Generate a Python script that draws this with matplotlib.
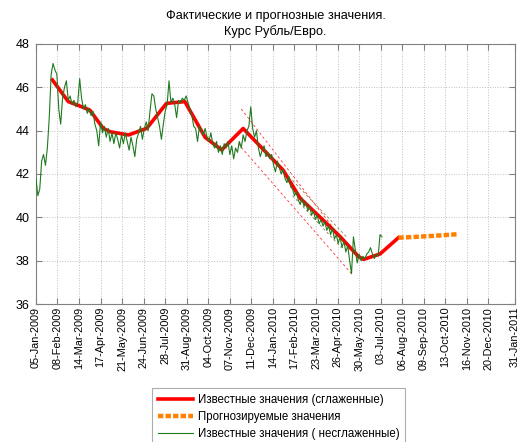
import numpy as np
import pandas as pd
import matplotlib
matplotlib.use('Agg')
import matplotlib.pyplot as plt

plt.rcParams['font.family'] = ['Liberation Sans', 'DejaVu Sans']

# исходный (несглаженный) ряд, шаг 3 дня от 05-Jan-2009
start = pd.Timestamp('2009-01-05')
raw_vals = [41.8, 41.0, 41.3, 42.6, 42.9, 42.4, 43.2, 44.6, 46.6, 47.1, 46.8, 46.6,
            45.0, 44.3, 45.5, 46.0, 46.3, 45.4, 45.6, 45.2, 45.4, 45.1, 45.3, 46.4,
            45.5, 45.0, 45.2, 44.8, 45.0, 44.7, 44.9, 44.3, 44.0, 43.3, 44.4, 43.9,
            44.2, 43.7, 44.1, 43.5, 43.9, 43.4, 43.9, 43.6, 43.2, 43.8, 43.4, 43.9,
            43.5, 43.1, 43.7, 43.3, 42.8, 43.6, 43.9, 44.2, 43.6, 44.1, 44.4, 44.0,
            44.9, 45.7, 45.6, 45.0, 44.6, 44.2, 43.6, 44.3, 44.9, 45.2, 46.3, 45.3,
            45.5, 45.2, 44.6, 45.4, 45.3, 45.5, 45.4, 45.6, 45.3, 45.0, 44.7, 44.2,
            44.1, 43.5, 44.2, 44.0, 43.8, 44.1, 43.7, 43.5, 43.9, 43.4, 43.2, 43.5,
            43.0, 43.3, 42.9, 43.4, 43.2, 43.5, 42.9, 43.3, 42.7, 43.2, 43.0, 43.5,
            43.2, 43.8, 43.5, 44.0, 44.2, 45.1, 44.1, 43.7, 44.0, 43.2, 42.8, 43.1,
            43.3, 42.8, 43.0, 42.7, 42.9, 42.4, 42.1, 42.6, 42.3, 42.0, 42.2, 41.8,
            41.6, 41.9, 41.4, 41.3, 41.0, 41.2, 40.8, 40.6, 40.9, 40.5, 40.7, 40.3,
            40.5, 40.1, 40.3, 39.9, 40.1, 39.7, 39.9, 39.6, 39.8, 39.4, 39.6, 39.2,
            39.5, 39.0, 39.2, 38.8, 39.1, 38.6, 38.9, 38.4, 38.7, 38.0, 37.4, 39.1,
            38.5, 37.9, 38.3, 38.0, 38.2, 38.1, 38.3, 38.4, 38.6, 38.3, 38.1, 38.3,
            38.2, 39.2, 39.1]

# сглаженный ряд (дни от начала, значения)
smooth_days = [26, 51, 69, 85, 106, 117, 146, 175, 206, 235, 267, 293, 327,
               390, 417, 454, 480, 509, 517, 543, 572]
smooth_vals = [46.34, 45.34, 45.14, 44.95, 44.11, 43.95, 43.8, 44.11, 45.26, 45.34,
               43.69, 43.11, 44.1, 42.18, 40.88, 39.85, 39.11, 38.19, 38.06, 38.31, 39.06]

# прогноз
fc_days = [572, 600, 630, 665]
fc_vals = [39.06, 39.1, 39.15, 39.22]

# доверительные полосы
outer_up_days, outer_up_vals = [324, 496], [45.0, 38.5]
outer_lo_days, outer_lo_vals = [319, 498], [43.4, 37.4]
inner_up_days, inner_up_vals = [405, 490], [41.7, 39.1]
inner_lo_days, inner_lo_vals = [405, 482], [41.0, 38.6]

tick_labels = ['05-Jan-2009', '08-Feb-2009', '14-Mar-2009', '17-Apr-2009', '21-May-2009',
               '24-Jun-2009', '28-Jul-2009', '31-Aug-2009', '04-Oct-2009', '07-Nov-2009',
               '11-Dec-2009', '14-Jan-2010', '17-Feb-2010', '23-Mar-2010', '26-Apr-2010',
               '30-May-2010', '03-Jul-2010', '06-Aug-2010', '09-Sep-2010', '13-Oct-2010',
               '16-Nov-2010', '20-Dec-2010', '31-Jan-2011']


def to_dates(days):
    return start + pd.to_timedelta(days, unit='D')


raw_dates = pd.date_range(start, periods=len(raw_vals), freq='3D')
tick_dates = pd.to_datetime(tick_labels, format='%d-%b-%Y')

fig = plt.figure(figsize=(5.21, 4.42), dpi=100)
ax = fig.add_axes([0.069, 0.3122, 0.9195, 0.5883])

ax.plot(to_dates(smooth_days), smooth_vals, color='#ff0000', lw=2.6,
        label='Известные значения (сглаженные)', zorder=3, solid_joinstyle='round')
ax.plot(to_dates(fc_days), fc_vals, color='#ff7f00', lw=3.2, ls=(0, (1.2, 0.5)),
        label='Прогнозируемые значения', zorder=3)
ax.plot(raw_dates, raw_vals, color='#1f7a1f', lw=0.8,
        label='Известные значения ( несглаженные)', zorder=4)

for d, v in [(outer_up_days, outer_up_vals), (outer_lo_days, outer_lo_vals)]:
    ax.plot(to_dates(d), v, color='#ff3030', lw=0.6, ls=(0, (3, 3)), zorder=2)
for d, v in [(inner_up_days, inner_up_vals), (inner_lo_days, inner_lo_vals)]:
    ax.plot(to_dates(d), v, color='#8c7c3c', lw=0.6, ls=(0, (3, 3)), zorder=2)

ax.set_xlim(tick_dates[0], tick_dates[-1])
ax.set_ylim(36, 48)
ax.set_yticks(np.arange(36, 49, 2))
ax.set_xticks(tick_dates)
ax.set_xticklabels(tick_labels, rotation=90, fontsize=7.8)
ax.tick_params(direction='in', top=True, right=True, length=4, color='#808080')
ax.tick_params(axis='y', labelsize=9, pad=4.5)
ax.tick_params(axis='x', pad=2)
ax.grid(True, ls=':', color='#c0c0c0', lw=0.7)
for s in ax.spines.values():
    s.set_color('#808080')
    s.set_linewidth(0.8)

ax.set_title('Фактические и прогнозные значения.\nКурс Рубль/Евро.', fontsize=9.2,
             pad=6.5, linespacing=1.3)

leg = fig.legend(loc='upper left', bbox_to_anchor=(0.2917, 0.1222), fontsize=8.3,
                 frameon=True, fancybox=False, handlelength=3.0, handletextpad=0.4,
                 labelspacing=0.4, borderpad=0.55, borderaxespad=0)
leg.get_frame().set_edgecolor('#999999')
leg.get_frame().set_linewidth(0.8)

fig.savefig('out.png', dpi=100)
